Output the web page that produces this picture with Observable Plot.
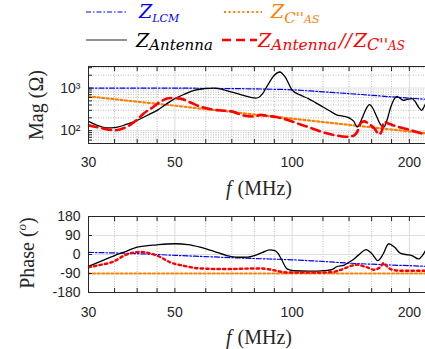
<!DOCTYPE html>
<html><head><meta charset="utf-8">
<script src="https://cdn.jsdelivr.net/npm/d3@7"></script>
<script src="https://cdn.jsdelivr.net/npm/@observablehq/plot@0.6"></script>
<style>
body{margin:0;width:425px;height:349px;overflow:hidden;background:#fff;position:relative}
#legend{position:absolute;left:0;top:0}
#top{position:absolute;left:0;top:55px}
#bot{position:absolute;left:0;top:200px}
svg{display:block}
</style></head><body>
<svg id="legend" width="425" height="55"></svg>
<div id="top"></div><div id="bot"></div>
<script>
// ---- data ----
const antF = [30,31.5,33.5,35,37.5,40,42.5,45,47.5,50,53,56,59.5,63,66,70,75,80.5,82,84,87,90,93,96,100,105,110,115,120,125,130,135,140,144,147,151,155,158,161,165,169,172,175,179,183,186,190,193,197,203,207,211,215,218,220];
const antMag = [165,135,116,118,140,174,230,299,420,565,720,883,968,1000,930,806,674,583,600,740,1270,1990,2375,1800,900,680,565,450,360,290,235,220,200,165,122,190,330,407,340,210,135,122,170,350,560,638,560,515,540,564,480,360,300,360,430];
const parF = [30,32,35,37.5,40,41.5,44,46,48.8,51.6,55,58,61,65,70,75,80,83,87,91,95,100,105,110,115,122,130,137,143,147,150,153,158,163,167,170,172,176,182,190,200,210,220];
const parMag = [133,118,102,122,180,250,360,487,583,565,450,370,328,300,283,228,215,235,220,209,190,165,140,122,105,88,77,72,75,95,150,165,140,110,82,100,160,150,133,118,105,92,80];
const lcmF = [30,40,50,60,70,80,90,100,110,120,140,160,180,200,220];
const lcmMag = [1000,1000,995,985,970,955,935,910,860,815,740,675,620,580,545];
const casF = [30,40,50,60,70,80,100,120,150,200,220];
const casMag = [640,480,385,320,275,240,192,160,128,96,87];

const lcmPh = [10,4,-4,-10,-15,-19,-22,-25,-29,-33,-41,-46,-50,-53,-56];
const casPh = [-90,-90,-90,-90,-90,-90,-90,-90,-90,-90,-90];
const antPhF = [30,32,35,37.5,40,45,50,54,58,63,68,72.5,77,80,84,87.5,90,92,94,97,101,110,123,127,130,136,142,148,155,160,166,171,177,183,190,196,203,211,216,220];
const antPh = [-56,-35,-5,15,35,46,51,47,35,15,-5,-13,-12,-5,10,22,20,5,-25,-68,-77,-79,-75,-70,-58,-50,-30,-3,23,5,-29,0,51,35,5,0,-5,-21,-5,19];
const parPhF = [30,32,34.5,37.5,40.5,43,46,48.6,52.6,58,68,76,83,87,91,97,110,126,132,138,142,147,152,156,162,168,172,175,180,190,220];
const parPh = [-61,-50,-36,-1,12,6,-13,-37,-53,-66,-69,-67,-66,-70,-77,-85,-86,-84,-75,-62,-53,-48,-55,-61,-72,-61,-40,-55,-71,-77,-77];

const xMajor = [30,50,100,200];
const xMinor = [35,40,45,60,70,80,90,120,140,160,180];
const yMagMajor = [100,1000];
const yMagLabels = ["10²","10³"];
const yMagMinor = [60,70,80,90,200,300,400,500,600,700,800,900,2000,3000];
const yPhTicks = [-180,-90,0,90,180];

const seriesNames = ["Z_LCM","Z_C''AS","Z_Antenna","Z_Antenna//Z_C''AS"];

// ---- helpers ----
const pts = (fs, vs) => fs.map((f, i) => ({f, v: vs[i]}));
const ink = "#262626";
const BLUE = "#0000ff", ORANGE = "#ff8000", RED = "#ff0000", BLACK = "#000000";
const sty = {
  lcm: {stroke: BLUE, strokeWidth: 1.2, strokeDasharray: "5,2,1.5,2"},
  cas: {stroke: ORANGE, strokeWidth: 2.2, strokeDasharray: "2,2.6"},
  ant: {stroke: BLACK, strokeWidth: 1.3},
  parTop: {stroke: RED, strokeWidth: 2.6, strokeDasharray: "9,5"},
  parBot: {stroke: RED, strokeWidth: 2.4, strokeDasharray: "2.4,3.2"}
};
const allX = xMajor.concat(xMinor);

function xMarks() {
  return [
    Plot.gridX(xMinor, {stroke: "#bdbdbd", strokeOpacity: 1, strokeDasharray: "1,1.5"}),
    Plot.gridX(xMajor.slice(1), {stroke: "#dedede", strokeOpacity: 1}),
  ];
}
function xAxes(pad) {
  return [
    Plot.axisX({ticks: allX, anchor: "bottom", tickSize: -4, tickFormat: () => "", stroke: ink}),
    Plot.axisX({ticks: allX, anchor: "top", tickSize: -4, tickFormat: () => "", stroke: ink}),
    Plot.axisX({ticks: xMajor, anchor: "bottom", tickSize: 0, tickPadding: pad, tickFormat: d => String(d), fill: ink, fontSize: 14})
  ];
}
const line = (data, s) => Plot.line(data, {x: "f", y: "v", curve: "monotone-x", clip: true, ...s});

const baseStyle = {fontFamily: "'Liberation Sans', Arial, sans-serif", fontSize: "14px", color: ink, background: "white", overflow: "visible"};

// ---- top plot: magnitude ----
const topSvg = Plot.plot({
  width: 425, height: 145, marginLeft: 88, marginRight: 0, marginTop: 11, marginBottom: 57,
  style: baseStyle,
  x: {type: "log", domain: [30, 220], label: null},
  y: {type: "log", domain: [50, 3200], label: null},
  marks: [
    ...xMarks(),
    Plot.gridY(yMagMinor, {stroke: "#bdbdbd", strokeOpacity: 1, strokeDasharray: "1,1.5"}),
    Plot.gridY(yMagMajor, {stroke: "#dedede", strokeOpacity: 1}),
    line(pts(lcmF, lcmMag), sty.lcm),
    line(pts(casF, casMag), sty.cas),
    line(pts(antF, antMag), sty.ant),
    line(pts(parF, parMag), sty.parTop),
    ...xAxes(13.5),
    Plot.axisY({ticks: yMagMajor.concat(yMagMinor), anchor: "left", tickSize: -4, tickFormat: () => "", stroke: ink}),
    Plot.axisY({ticks: yMagMajor, anchor: "left", tickSize: 0, tickPadding: 8, tickFormat: d => yMagLabels[yMagMajor.indexOf(d)], fill: ink, fontSize: 14}),
    Plot.frame({stroke: ink})
  ]
});
document.getElementById("top").appendChild(topSvg);

// ---- bottom plot: phase ----
const botSvg = Plot.plot({
  width: 425, height: 149, marginLeft: 88, marginRight: 0, marginTop: 16, marginBottom: 57,
  style: baseStyle,
  x: {type: "log", domain: [30, 220], label: null},
  y: {domain: [-180, 180], label: null},
  marks: [
    ...xMarks(),
    Plot.gridY([-90, 0, 90], {stroke: "#dedede", strokeOpacity: 1}),
    line(pts(lcmF, lcmPh), sty.lcm),
    line(pts(casF, casPh), sty.cas),
    line(pts(antPhF, antPh), sty.ant),
    line(pts(parPhF, parPh), sty.parBot),
    ...xAxes(14.5),
    Plot.axisY({ticks: yPhTicks, anchor: "left", tickSize: -4, tickFormat: () => "", stroke: ink}),
    Plot.axisY({ticks: yPhTicks, anchor: "left", tickSize: 0, tickPadding: 8, tickFormat: d => String(d), fill: ink, fontSize: 14}),
    Plot.frame({stroke: ink})
  ]
});
document.getElementById("bot").appendChild(botSvg);

// ---- axis titles (serif, LaTeX-like) ----
const serif = "'Liberation Serif', 'Times New Roman', serif";
function xTitle(svg, y) {
  const t = d3.select(svg).append("text").attr("x", 259).attr("y", y).attr("text-anchor", "middle")
    .attr("font-family", serif).attr("font-size", 20).attr("fill", ink);
  t.append("tspan").attr("font-style", "italic").text("f");
  t.append("tspan").attr("dx", 6).text("(MHz)");
}
xTitle(topSvg, 139.5);
xTitle(botSvg, 144);
{
  const t = d3.select(topSvg).append("text").attr("transform", "translate(43,50) rotate(-90)")
    .attr("text-anchor", "middle").attr("font-family", serif).attr("font-size", 20).attr("fill", ink);
  t.text("Mag (Ω)");
}
{
  const t = d3.select(botSvg).append("text").attr("transform", "translate(34,53) rotate(-90)")
    .attr("text-anchor", "middle").attr("font-family", serif).attr("font-size", 20).attr("fill", ink);
  t.append("tspan").text("Phase (");
  t.append("tspan").attr("font-style", "italic").attr("font-size", 13).attr("dy", -8).text("o");
  t.append("tspan").attr("dy", 8).text(")");
}

// ---- legend ----
const lg = d3.select("#legend");
const lfont = "'DejaVu Serif', serif";
function legendEntry(x1, x2, ly, s, color, tx, parts) {
  const l = lg.append("line").attr("x1", x1).attr("x2", x2).attr("y1", ly).attr("y2", ly)
    .attr("stroke", s.stroke === BLACK ? "#6e6e6e" : s.stroke).attr("stroke-width", s.strokeWidth);
  if (s.strokeDasharray) l.attr("stroke-dasharray", s.strokeDasharray);
  const t = lg.append("text").attr("x", tx).attr("font-family", lfont).attr("font-style", "italic").attr("fill", color);
  parts.forEach(([txt, size, y, dx]) => {
    const sp = t.append("tspan").attr("font-size", size).attr("y", y).text(txt);
    if (dx) sp.attr("dx", dx);
  });
}
legendEntry(86, 127, 12, sty.lcm, BLUE, 139, [["Z", 19, 18], ["LCM", 11, 22]]);
legendEntry(224, 262, 12, sty.cas, ORANGE, 271, [["Z", 19, 18], ["C''", 15, 23], ["AS", 11, 23]]);
legendEntry(86, 127, 40, sty.ant, BLACK, 136, [["Z", 19, 46.5], ["Antenna", 15, 50]]);
legendEntry(222, 257, 40, sty.parTop, RED, 258, [["Z", 19, 46.5], ["Antenna", 15.5, 50], ["//", 19, 46.5, 2], ["Z", 19, 46.5, 2], ["C''", 16, 50], ["AS", 12, 50]]);
</script>
</body></html>
